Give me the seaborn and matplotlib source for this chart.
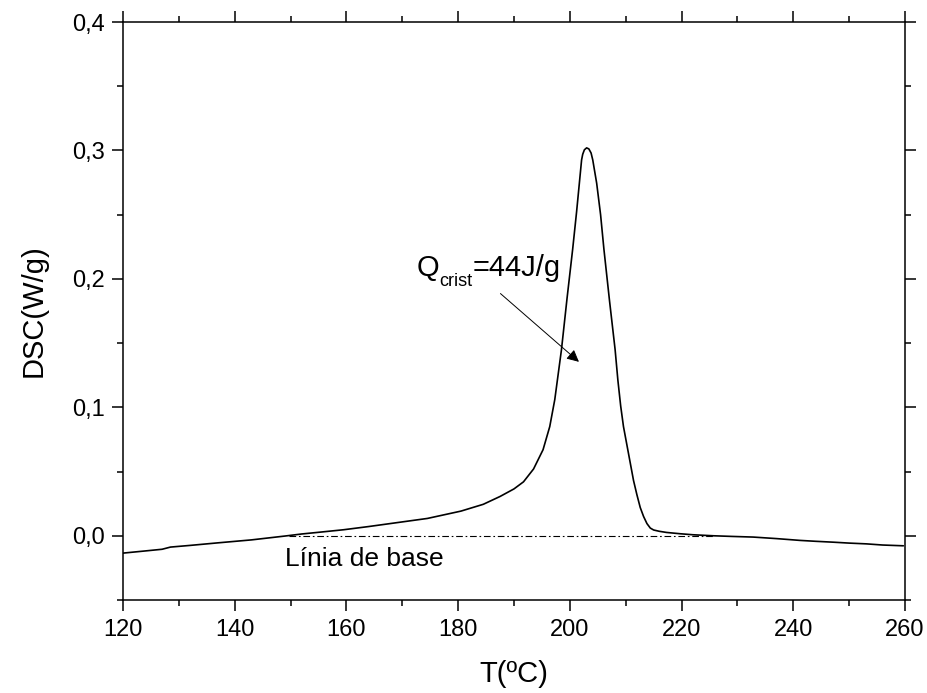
import numpy as np
import pandas as pd
import matplotlib
matplotlib.use('Agg')
import matplotlib.pyplot as plt
import matplotlib.ticker as mticker
import seaborn as sns

# DSC curve (T in degC, DSC in W/g)
T_C = [120, 124, 127, 128.5, 132, 137, 143, 149, 152, 155, 159.5, 164, 168.5,
       174.5, 180.5, 184.5, 187.5, 190, 191.7, 193.5, 195.2, 196.4, 197.3,
       198.5, 199.5, 200.5, 201.2, 201.7, 202.1, 202.3, 202.6, 203.0, 203.4,
       203.8, 204.1, 204.8, 205.5, 206.1, 207.1, 208.1, 208.6, 209.1, 209.6,
       210.2, 210.8, 211.4, 212.0, 212.6, 213.2, 213.8, 214.4, 215.0, 216,
       217.3, 219.7, 222, 225.7, 229, 232.8, 237, 241.2, 244, 247.2, 250,
       253.1, 256, 259.7]
DSC_WG = [-0.0135, -0.0118, -0.0105, -0.0088, -0.0075, -0.0055, -0.0032,
          -0.0002, 0.0014, 0.0027, 0.0047, 0.0072, 0.0099, 0.0135, 0.0192,
          0.0245, 0.0306, 0.0365, 0.042, 0.052, 0.067, 0.085, 0.106, 0.145,
          0.185, 0.223, 0.252, 0.2745, 0.2926, 0.297, 0.3005, 0.302, 0.3012,
          0.298, 0.2926, 0.2745, 0.250, 0.223, 0.183, 0.145, 0.121, 0.101,
          0.085, 0.071, 0.057, 0.043, 0.032, 0.022, 0.015, 0.0095, 0.006,
          0.0045, 0.0035, 0.0026, 0.0016, 0.0008, 0.0, -0.0005, -0.001,
          -0.0022, -0.0036, -0.0043, -0.005, -0.0057, -0.0063, -0.0072,
          -0.0078]

BASE_T = [149.8, 225.6]
BASE_Y = [0.0, 0.0]

Y_TICKS = [0.0, 0.1, 0.2, 0.3, 0.4]
Y_TICKLABELS = ['0,0', '0,1', '0,2', '0,3', '0,4']
X_TICKS = [120, 140, 160, 180, 200, 220, 240, 260]

sns.set_style('ticks')
plt.rcParams['font.family'] = ['Liberation Sans', 'DejaVu Sans']
plt.rcParams['text.color'] = 'black'
plt.rcParams['axes.labelcolor'] = 'black'
plt.rcParams['xtick.color'] = 'black'
plt.rcParams['ytick.color'] = 'black'

df = pd.DataFrame({'T': T_C, 'DSC': DSC_WG})

fig, ax = plt.subplots(figsize=(9.28, 6.93), dpi=100)
fig.subplots_adjust(left=123/928, right=905/928, top=1-22/693, bottom=1-600/693)

sns.lineplot(data=df, x='T', y='DSC', ax=ax, color='black', lw=1.2, sort=False)
ax.plot(BASE_T, BASE_Y, color='black', lw=0.8, linestyle=(0, (6, 2.5, 1.5, 2.5)))

ax.set_xlim(120, 260)
ax.set_ylim(-0.05, 0.4)
ax.set_xticks(X_TICKS)
ax.set_yticks(Y_TICKS)
ax.set_yticklabels(Y_TICKLABELS)
ax.xaxis.set_minor_locator(mticker.MultipleLocator(10))
ax.yaxis.set_minor_locator(mticker.MultipleLocator(0.05))

for s in ax.spines.values():
    s.set_visible(True)
    s.set_linewidth(1.1)
    s.set_color('black')

ax.tick_params(which='both', direction='out', top=True, right=True,
               width=1.1, color='black', labelcolor='black')
ax.tick_params(which='major', length=8, labelsize=17, pad=5)
ax.tick_params(which='minor', length=4)
ax.tick_params(axis='x', which='major', pad=6)

ax.set_xlabel('T(ºC)', fontsize=21, labelpad=13, color='black')
ax.set_ylabel('DSC(W/g)', fontsize=21, labelpad=18, color='black')

# Q_crist label built from pieces so the subscript drops like the original
t_q = ax.text(172.6, 0.202, 'Q', fontsize=21, ha='left', va='baseline', color='black')
t_sub = ax.annotate('crist', xy=(1, 0), xycoords=t_q, xytext=(0, -3),
                    textcoords='offset points', fontsize=13, ha='left',
                    va='baseline', color='black')
ax.annotate('=44J/g', xy=(1, 0), xycoords=(t_sub, t_q), fontsize=21,
            ha='left', va='bottom', color='black')

ax.annotate('', xy=(202.0, 0.134), xytext=(187.2, 0.190),
            arrowprops=dict(arrowstyle='-|>', color='black', lw=0.7,
                            mutation_scale=18))
ax.text(149.0, -0.0239, 'Línia de base', fontsize=19, ha='left', va='baseline',
        color='black')

fig.savefig('out.png', dpi=100)
